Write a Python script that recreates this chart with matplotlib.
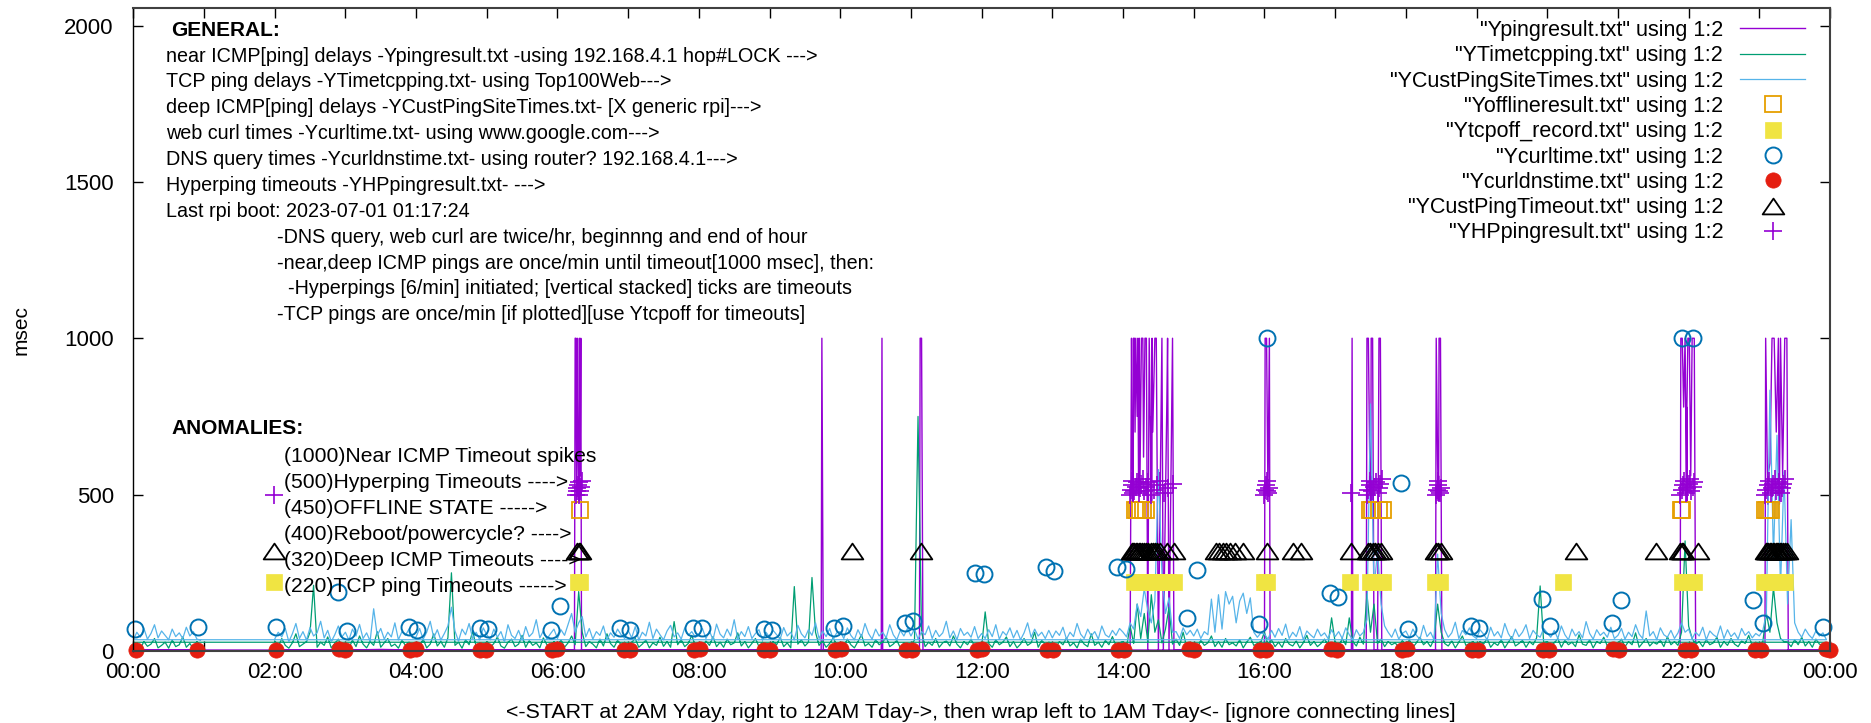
import numpy as np
import matplotlib.pyplot as plt
from matplotlib.path import Path

plt.rcParams['font.family'] = ['Liberation Sans', 'DejaVu Sans']

W, H = 1871, 723

#-----------------------------------------------------------------------------
# data (time in hours of the day, values in msec)
# file order: 2AM yday -> midnight, then wrap to 00:00 -> 01:00 today
#-----------------------------------------------------------------------------

# near ICMP ping (Ypingresult)
ping_t = [2.0, 2.5, 3.0, 3.5, 4.0, 4.5, 5.0, 5.5, 6.0,
          6.24, 6.25, 6.26, 6.27, 6.28, 6.29, 6.300, 6.302, 6.304, 6.306, 6.31, 6.32, 6.33, 6.34,
          6.6, 7.0, 7.5, 8.0, 8.5, 9.0, 9.5,
          9.73, 9.74, 9.75, 9.76, 10.0, 10.3, 10.58, 10.59, 10.60, 10.8,
          11.12, 11.13, 11.15, 11.16, 11.17, 11.5, 12.0, 12.5, 13.0, 13.5, 14.0,
          14.10, 14.12, 14.13, 14.140, 14.142, 14.144, 14.146, 14.148, 14.16, 14.17, 14.18,
          14.20, 14.21, 14.220, 14.222, 14.224, 14.23, 14.24, 14.26, 14.28, 14.29, 14.31,
          14.33, 14.35, 14.37, 14.400, 14.402, 14.404, 14.406, 14.41, 14.42, 14.45, 14.47,
          14.50, 14.55, 14.57, 14.62, 14.63, 14.65, 14.70, 14.72,
          15.0, 15.5, 16.0, 16.01, 16.03, 16.05, 16.07, 16.08, 16.5, 17.0,
          17.23, 17.24, 17.25, 17.44, 17.45, 17.47, 17.49, 17.500, 17.502, 17.504, 17.51,
          17.53, 17.55, 17.60, 17.62, 17.64, 17.66, 18.0,
          18.42, 18.43, 18.45, 18.460, 18.462, 18.464, 18.47, 18.49, 18.51,
          19.0, 19.5, 20.0, 20.5, 21.0, 21.5,
          21.88, 21.89, 21.91, 21.93, 21.95, 21.970, 21.972, 21.974, 21.976, 21.99, 22.01,
          22.03, 22.05, 22.08, 22.10,
          22.5, 23.0,
          23.08, 23.09, 23.120, 23.122, 23.124, 23.126, 23.15, 23.18, 23.21, 23.24, 23.27,
          23.280, 23.282, 23.284, 23.30, 23.33, 23.36, 23.39, 23.41,
          23.7, 23.98,
          0.0, 0.5, 0.95]
ping_v = [3, 4, 3, 5, 3, 4, 3, 4, 3,
          3, 1000, 1000, 520, 1000, 650, 480, 610, 480, 610, 1000, 560, 1000, 3,
          4, 3, 4, 3, 4, 3, 4,
          3, 1000, 500, 3, 3, 4, 3, 1000, 3, 4,
          3, 1000, 1000, 500, 3, 4, 3, 4, 3, 4, 3,
          3, 1000, 600, 480, 750, 480, 750, 1000, 1000, 700, 1000,
          750, 1000, 500, 560, 500, 1000, 560, 1000, 1000, 620, 1000,
          1000, 3, 1000, 480, 750, 480, 750, 1000, 700, 1000, 1000,
          3, 1000, 3, 800, 1000, 3, 1000, 3,
          3, 4, 3, 1000, 1000, 500, 1000, 3, 4, 3,
          3, 1000, 3, 3, 1000, 1000, 600, 480, 560, 480, 1000,
          1000, 3, 3, 1000, 1000, 3, 3,
          3, 1000, 600, 480, 560, 480, 1000, 1000, 3,
          3, 4, 3, 4, 3, 4,
          3, 1000, 1000, 780, 1000, 475, 780, 475, 780, 1000, 1000,
          560, 1000, 1000, 3,
          4, 3,
          3, 1000, 470, 567, 470, 567, 600, 1000, 1000, 700, 1000,
          470, 567, 470, 1000, 560, 1000, 1000, 3,
          4, 3,
          3, 4, 3]

# TCP ping (YTimetcpping), one value every 3 min, one row per hour
tcp_yday = [
    32, 12, 40, 18, 9, 26, 55, 14, 22, 30, 60, 210, 12, 28, 18, 45, 10, 24, 38, 15,      # 02
    20, 8, 35, 14, 48, 22, 10, 30, 18, 62, 12, 26, 40, 15, 22, 9, 34, 18, 28, 12,        # 03
    25, 14, 38, 10, 22, 55, 16, 30, 12, 42, 250, 18, 28, 9, 36, 20, 64, 14, 25, 11,      # 04
    30, 12, 24, 45, 16, 9, 28, 38, 14, 22, 50, 12, 33, 18, 26, 10, 42, 20, 15, 30,       # 05
    18, 35, 12, 26, 48, 20, 190, 60, 14, 30, 22, 10, 38, 16, 55, 24, 12, 34, 20, 28,     # 06
    14, 28, 40, 12, 22, 35, 10, 26, 18, 44, 15, 30, 12, 94, 20, 36, 14, 24, 50, 16,      # 07
    22, 10, 32, 18, 46, 14, 28, 12, 38, 20, 26, 58, 16, 30, 10, 24, 40, 14, 28, 18,      # 08
    12, 30, 20, 44, 14, 26, 10, 206, 22, 36, 16, 28, 235, 60, 18, 32, 12, 24, 42, 20,    # 09
    26, 14, 38, 20, 10, 30, 52, 16, 24, 12, 36, 20, 28, 45, 14, 22, 34, 10, 26, 18,      # 10
    20, 35, 750, 60, 14, 28, 18, 40, 12, 26, 32, 16, 48, 22, 10, 30, 20, 38, 14, 24,     # 11
    16, 125, 24, 12, 36, 20, 28, 45, 14, 30, 10, 22, 40, 18, 26, 60, 12, 34, 20, 28,     # 12
    24, 12, 30, 20, 42, 16, 26, 10, 38, 22, 14, 55, 18, 28, 12, 34, 20, 46, 16, 26,      # 13
    30, 14, 80, 24, 150, 40, 120, 30, 180, 60, 100, 26, 70, 140, 22, 38, 18, 60, 14, 28, # 14
    22, 10, 34, 18, 26, 48, 14, 30, 12, 40, 20, 26, 16, 36, 10, 28, 44, 18, 24, 30,      # 15
    60, 20, 36, 14, 28, 12, 40, 22, 16, 32, 10, 26, 50, 18, 30, 14, 24, 38, 20, 106,     # 16
    28, 14, 40, 20, 106, 30, 16, 44, 22, 183, 60, 150, 24, 38, 14, 30, 20, 26, 12, 34,   # 17
    18, 36, 12, 26, 44, 20, 30, 14, 38, 150, 60, 24, 16, 32, 10, 28, 48, 18, 24, 30,     # 18
    14, 30, 22, 40, 12, 26, 18, 36, 10, 28, 46, 16, 24, 34, 12, 30, 20, 42, 208, 26,    # 19
    30, 16, 26, 40, 12, 34, 20, 28, 14, 52, 22, 18, 36, 10, 30, 24, 44, 16, 26, 20,      # 20
    24, 38, 14, 30, 20, 58, 12, 26, 40, 16, 28, 22, 34, 14, 46, 20, 30, 18, 60, 352,     # 21
    80, 40, 22, 30, 14, 36, 20, 26, 44, 12, 30, 18, 40, 22, 14, 32, 24, 50, 16, 28,      # 22
    22, 30, 120, 60, 203, 90, 40, 30, 28, 14, 36, 20, 44, 16, 30, 12, 38, 22, 18, 28,    # 23
]
tcp_tday = [28, 25, 8, 30, 15, 22, 40, 10, 18, 28, 9, 35, 14, 20, 45, 12, 24, 8, 30, 15]  # 00

# deep ICMP ping (YCustPingSiteTimes), same 3 min grid
cust_yday = [
    38, 60, 45, 72, 30, 55, 88, 40, 62, 35, 75, 48, 58, 95, 42, 66, 30, 52, 80, 45,      # 02
    60, 35, 70, 48, 85, 40, 58, 32, 135, 50, 72, 38, 60, 45, 90, 36, 62, 50, 70, 42,     # 03
    45, 72, 38, 60, 95, 42, 68, 35, 56, 80, 140, 64, 32, 70, 52, 88, 40, 60, 36, 74,     # 04
    52, 36, 70, 44, 62, 30, 84, 50, 40, 66, 35, 78, 46, 58, 100, 42, 64, 38, 55, 70,     # 05
    40, 68, 50, 85, 120, 60, 90, 110, 45, 72, 38, 62, 50, 80, 36, 58, 44, 70, 52, 40,    # 06
    66, 42, 78, 35, 60, 48, 92, 40, 70, 52, 36, 64, 82, 45, 58, 38, 74, 50, 62, 44,      # 07
    50, 72, 40, 64, 36, 86, 54, 42, 70, 48, 100, 38, 62, 46, 78, 40, 56, 68, 35, 60,     # 08
    44, 66, 52, 38, 75, 48, 60, 36, 82, 55, 42, 68, 50, 90, 40, 64, 46, 72, 38, 58,      # 09
    62, 40, 74, 50, 36, 68, 45, 88, 56, 38, 70, 48, 60, 42, 84, 52, 36, 66, 48, 72,      # 10
    48, 70, 38, 62, 52, 80, 40, 66, 46, 58, 95, 42, 64, 36, 72, 50, 60, 44, 78, 40,      # 11
    56, 40, 68, 46, 84, 38, 62, 50, 74, 42, 66, 36, 58, 90, 44, 70, 48, 60, 40, 66,      # 12
    42, 64, 50, 76, 38, 60, 46, 88, 54, 40, 70, 48, 62, 38, 80, 52, 44, 66, 50, 72,      # 13
    60, 45, 90, 70, 150, 110, 200, 130, 90, 160, 580, 250, 120, 170, 60, 62, 40, 74, 52, 66,  # 14
    48, 70, 40, 62, 52, 166, 60, 180, 70, 190, 150, 175, 90, 160, 185, 120, 170, 60, 44, 58,  # 15
    54, 38, 66, 44, 72, 50, 86, 40, 60, 46, 78, 36, 64, 52, 42, 70, 48, 58, 40, 68,      # 16
    46, 62, 40, 74, 52, 36, 68, 48, 60, 100, 790, 200, 320, 150, 80, 60, 44, 70, 38, 56, # 17
    64, 42, 70, 50, 38, 82, 46, 60, 36, 310, 120, 68, 44, 58, 92, 40, 66, 52, 74, 48,    # 18
    40, 68, 54, 36, 76, 48, 62, 42, 88, 56, 38, 70, 46, 60, 84, 40, 66, 52, 44, 72,      # 19
    58, 44, 66, 40, 80, 52, 36, 70, 48, 62, 42, 94, 56, 38, 68, 50, 60, 44, 76, 40,      # 20
    50, 72, 38, 60, 46, 84, 54, 40, 128, 48, 62, 36, 74, 52, 44, 66, 40, 58, 90, 60,     # 21
    70, 40, 60, 48, 76, 36, 64, 52, 44, 80, 40, 68, 46, 58, 38, 72, 50, 62, 42, 56,      # 22
    48, 66, 120, 834, 300, 690, 200, 573, 150, 420, 90, 60, 44, 70, 52, 40, 64, 48, 58, 36,  # 23
]
cust_tday = [36, 60, 44, 72, 38, 56, 84, 42, 64, 50, 36, 70, 46, 58, 40, 76, 48, 62, 38, 35]  # 00

# offline state (450)
offline_t = [6.32, 14.17, 14.20, 14.24, 14.28, 14.33, 17.49, 17.52, 17.62, 17.68,
             21.89, 21.91, 23.08, 23.11, 23.14, 23.16]
# TCP ping timeouts (220)
tcpoff_t = [1.99, 6.29, 6.32, 14.16, 14.24, 14.32, 14.40, 14.48, 14.56, 14.64, 14.72,
            15.99, 16.04, 17.21, 17.49, 17.56, 17.62, 17.68, 18.41, 18.49, 20.22,
            21.90, 21.98, 22.08, 23.07, 23.14, 23.22, 23.30, 23.37]

# web curl times
curl_t = [0.02, 0.91, 2.02, 2.90, 3.02, 3.90, 4.01, 4.90, 5.02, 5.91, 6.03, 6.88, 7.02,
          7.92, 8.04, 8.92, 9.03, 9.91, 10.04, 10.91, 11.03, 11.91, 12.03, 12.91, 13.02,
          13.91, 14.04, 14.90, 15.04, 15.92, 16.04, 16.93, 17.04, 17.93, 18.03, 18.92,
          19.03, 19.92, 20.04, 20.92, 21.04, 21.90, 22.06, 22.91, 23.05, 23.90]
curl_v = [71, 78, 77, 189, 64, 78, 66, 75, 70, 67, 144, 75, 67,
          75, 72, 71, 67, 75, 80, 88, 96, 248, 246, 267, 256,
          267, 262, 106, 259, 86, 1000, 184, 174, 538, 70, 80,
          75, 166, 80, 88, 163, 1000, 1000, 163, 88, 77]

# DNS query times
dns_t = [0.04, 0.90, 2.02, 2.91, 2.99, 3.92, 4.00, 4.91, 4.99, 5.92, 6.00, 6.94, 7.02,
         7.93, 8.01, 8.92, 9.00, 9.93, 10.01, 10.93, 11.01, 11.93, 12.01, 12.93, 13.01,
         13.93, 14.01, 14.93, 15.01, 15.94, 16.02, 16.94, 17.02, 17.94, 18.02, 18.94,
         19.02, 19.94, 20.02, 20.93, 21.01, 21.95, 22.03, 22.94, 23.02, 23.95, 24.0]
dns_v = [2, 4, 3, 6, 2, 3, 5, 2, 4, 3, 6, 2, 4,
         3, 5, 2, 4, 3, 6, 2, 4, 3, 5, 2, 3,
         4, 2, 6, 3, 2, 4, 5, 2, 3, 6, 2,
         4, 3, 2, 5, 3, 2, 4, 3, 2, 5, 3]

# deep ICMP timeouts (320)
custto_t = [1.99, 6.28, 6.30, 6.32, 10.17, 11.14,
            14.12, 14.14, 14.16, 14.18, 14.20, 14.22, 14.24, 14.27, 14.30, 14.33, 14.36,
            14.39, 14.42, 14.45, 14.48, 14.52, 14.62, 14.72,
            15.31, 15.36, 15.41, 15.46, 15.52, 15.58, 15.70, 16.04, 16.41, 16.52,
            17.22, 17.47, 17.50, 17.53, 17.57, 17.61, 17.65,
            18.43, 18.46, 18.50, 20.41, 21.54, 21.88, 21.90, 21.92, 22.13,
            23.09, 23.11, 23.13, 23.15, 23.17, 23.19, 23.21, 23.23, 23.25, 23.27,
            23.29, 23.31, 23.33, 23.36, 23.39]

# hyperping timeouts (~500, stacked)
hp_t = [1.99,
        6.26, 6.27, 6.28, 6.29, 6.30, 6.31, 6.32, 6.33, 6.34,
        14.10, 14.11, 14.12, 14.13, 14.14, 14.16, 14.18, 14.20, 14.22, 14.24, 14.26,
        14.28, 14.30, 14.33, 14.36, 14.40, 14.44, 14.48, 14.52, 14.58, 14.64, 14.70,
        16.00, 16.01, 16.02, 16.03, 16.04, 16.05, 16.06,
        17.22, 17.45, 17.47, 17.49, 17.50, 17.52, 17.55, 17.58, 17.60, 17.62, 17.64, 17.66,
        18.42, 18.44, 18.45, 18.46, 18.47, 18.48, 18.50,
        21.88, 21.90, 21.92, 21.94, 21.96, 21.98, 22.00, 22.02, 22.04, 22.06, 22.08,
        23.08, 23.10, 23.12, 23.14, 23.16, 23.18, 23.20, 23.22, 23.24, 23.26,
        23.28, 23.30, 23.32, 23.34, 23.36]
hp_v = [500,
        500, 510, 520, 530, 540, 500, 510, 525, 545,
        500, 515, 530, 545, 505, 510, 525, 540, 505, 520, 535,
        550, 510, 525, 540, 500, 515, 530, 545, 505, 520, 535,
        500, 515, 530, 545, 510, 505, 520,
        505, 500, 515, 530, 545, 510, 525, 540, 505, 520, 535, 550,
        500, 515, 530, 545, 510, 505, 520,
        500, 515, 530, 545, 505, 520, 535, 550, 510, 525, 540,
        500, 515, 530, 545, 505, 520, 535, 550, 510, 525,
        540, 505, 520, 535, 550]

legend_labels = ['"Ypingresult.txt" using 1:2', '"YTimetcpping.txt" using 1:2',
                 '"YCustPingSiteTimes.txt" using 1:2', '"Yofflineresult.txt" using 1:2',
                 '"Ytcpoff_record.txt" using 1:2', '"Ycurltime.txt" using 1:2',
                 '"Ycurldnstime.txt" using 1:2', '"YCustPingTimeout.txt" using 1:2',
                 '"YHPpingresult.txt" using 1:2']

general_lines = ['near ICMP[ping] delays -Ypingresult.txt -using 192.168.4.1 hop#LOCK --->',
                 'TCP ping delays -YTimetcpping.txt- using Top100Web--->',
                 'deep ICMP[ping] delays -YCustPingSiteTimes.txt- [X generic rpi]--->',
                 'web curl times -Ycurltime.txt- using www.google.com--->',
                 'DNS query times -Ycurldnstime.txt- using router? 192.168.4.1--->',
                 'Hyperping timeouts -YHPpingresult.txt- --->',
                 'Last rpi boot: 2023-07-01 01:17:24']
notes_lines = ['-DNS query, web curl are twice/hr, beginnng and end of hour',
               '-near,deep ICMP pings are once/min until timeout[1000 msec], then:',
               '  -Hyperpings [6/min] initiated; [vertical stacked] ticks are timeouts',
               '-TCP pings are once/min [if plotted][use Ytcpoff for timeouts]']
anomaly_lines = ['(1000)Near ICMP Timeout spikes',
                 '(500)Hyperping Timeouts ---->',
                 '(450)OFFLINE STATE ----->',
                 '(400)Reboot/powercycle? ---->',
                 '(320)Deep ICMP Timeouts ---->',
                 '(220)TCP ping Timeouts ----->']

#-----------------------------------------------------------------------------
# time grids for the 3 min series
grid_t = np.concatenate([np.arange(120, 1440, 3), np.arange(0, 60, 3)]) / 60.0
tcp_v = tcp_yday + tcp_tday
cust_v = cust_yday + cust_tday

purple = '#9400D3'
green = '#009E73'
skyblue = '#56B4E9'
orange = '#E69F00'
yellow = '#F0E442'
blue = '#0072B2'
red = '#E51E10'

# gnuplot style wide triangle
tri = Path([(-1, -0.73), (1, -0.73), (0, 0.73), (-1, -0.73)],
           [Path.MOVETO, Path.LINETO, Path.LINETO, Path.CLOSEPOLY])

fig = plt.figure(figsize=(W / 100, H / 100), dpi=100)
ax = fig.add_axes([133.3 / W, 1 - 651 / H, (1830 - 133.3) / W, (651 - 8.3) / H])

ax.plot(ping_t, ping_v, color=purple, lw=1.0, label=legend_labels[0])
ax.plot(grid_t, tcp_v, color=green, lw=0.9, label=legend_labels[1])
ax.plot(grid_t, cust_v, color=skyblue, lw=0.9, label=legend_labels[2])
ax.plot(offline_t, [450] * len(offline_t), ls='none', marker='s', ms=11.5, mfc='none',
        mec=orange, mew=1.3, clip_on=False, label=legend_labels[3])
ax.plot(tcpoff_t, [220] * len(tcpoff_t), ls='none', marker='s', ms=11.5, mfc=yellow,
        mec=yellow, mew=0.5, clip_on=False, label=legend_labels[4])
ax.plot(curl_t, curl_v, ls='none', marker='o', ms=11.5, mfc='none', mec=blue, mew=1.4,
        clip_on=False, label=legend_labels[5])
ax.plot(dns_t, dns_v, ls='none', marker='o', ms=11, mfc=red, mec=red, mew=0.5,
        clip_on=False, label=legend_labels[6])
ax.plot(custto_t, [320] * len(custto_t), ls='none', marker=tri, ms=15.6, mfc='none',
        mec='black', mew=1.3, clip_on=False, label=legend_labels[7])
ax.plot(hp_t, hp_v, ls='none', marker='+', ms=12.5, mec=purple, mew=1.2,
        clip_on=False, label=legend_labels[8])

ax.axhline(0, color='#505050', lw=2.2, zorder=2.1)

ax.set_xlim(0, 24)
ax.set_ylim(0, 2055)
ax.set_xticks(range(25))
ax.set_xticklabels(['%02d:00' % (h % 24) if h % 2 == 0 else '' for h in range(25)])
ax.set_yticks([0, 500, 1000, 1500, 2000])
ax.tick_params(direction='in', length=7, width=1, top=True, right=True, labelsize=16)
ax.tick_params(axis='x', pad=8)
ax.tick_params(axis='y', pad=14)
for side in ['top', 'right', 'bottom']:
    ax.spines[side].set_color('#404040')
    ax.spines[side].set_linewidth(1.5)
ax.spines['left'].set_linewidth(1.0)

leg = ax.legend(loc='upper right', bbox_to_anchor=(1805 / W, 1 - 20 / H),
                bbox_transform=fig.transFigure, frameon=False, markerfirst=False,
                borderpad=0, borderaxespad=0, handlelength=3.0, handletextpad=0.8,
                labelspacing=0.2, prop={'size': 15.5})

def put(x, y, s, **kw):
    fig.text(x / W, 1 - y / H, s, va='center', **kw)

put(21.5, 330, 'msec', rotation=90, ha='center', fontsize=15)
put(981, 712, '<-START at 2AM Yday, right to 12AM Tday->, then wrap left to 1AM Tday<- '
    '[ignore connecting lines]', ha='center', fontsize=15.4)

put(170.7, 31, 'GENERAL:', fontsize=15, fontweight='bold')
for i, s in enumerate(general_lines):
    put(166, 56 + 25.9 * i, s, fontsize=14.2)
for i, s in enumerate(notes_lines):
    put(276.8, 237.4 + 25.7 * i, s, fontsize=14.2)

put(171, 429, 'ANOMALIES:', fontsize=15, fontweight='bold')
for i, s in enumerate(anomaly_lines):
    put(284, 456 + 26 * i, s, fontsize=15.2)

fig.savefig('out.png', dpi=100)
